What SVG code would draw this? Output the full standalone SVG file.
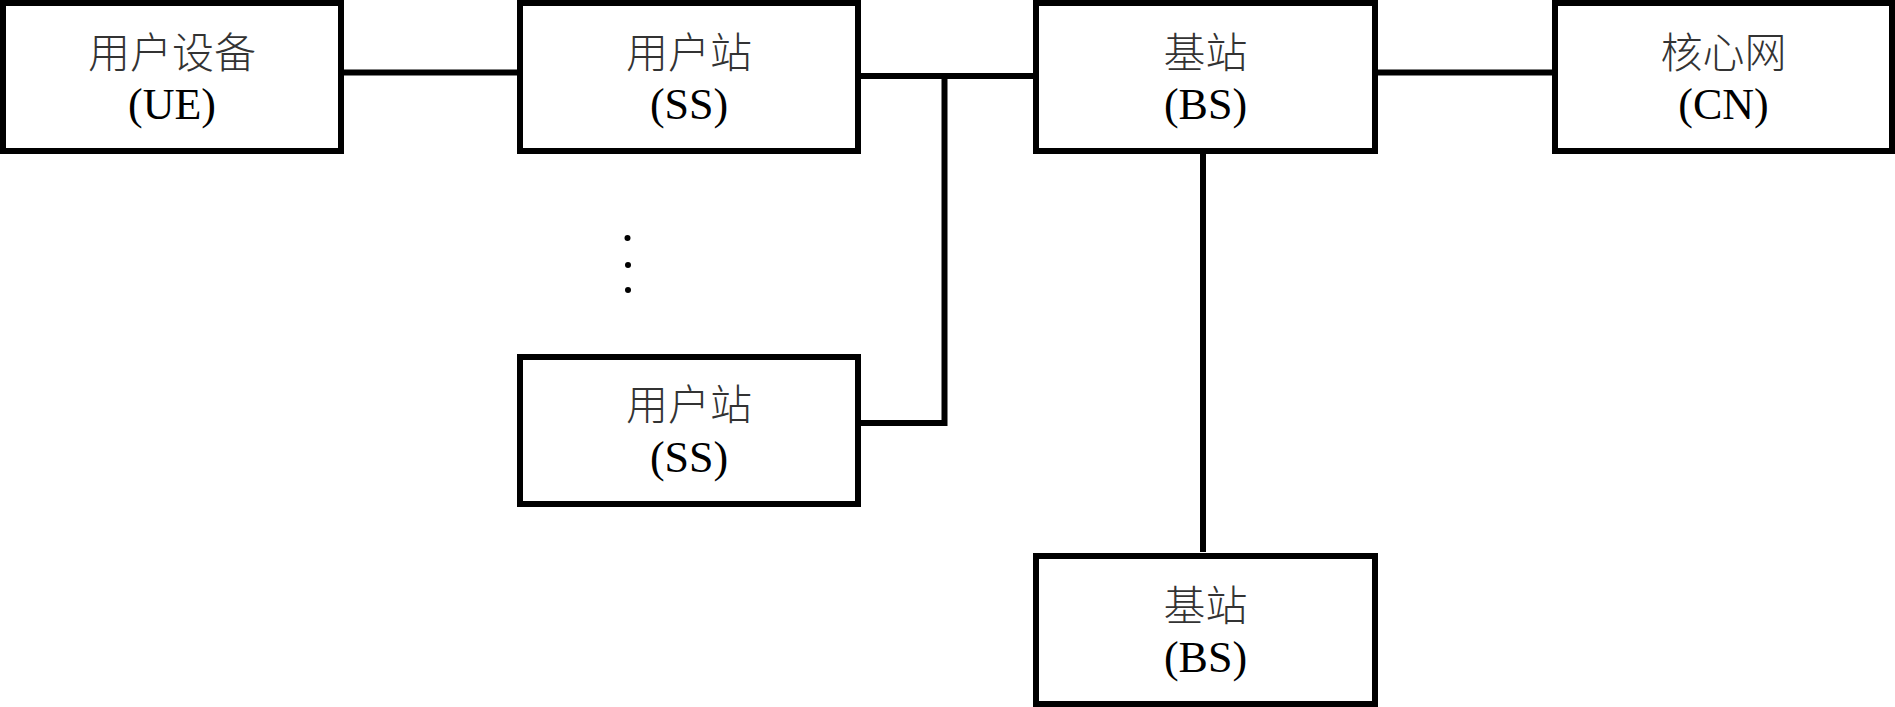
<svg xmlns="http://www.w3.org/2000/svg" width="1895" height="707" viewBox="0 0 1895 707">
<style>
.box{fill:#fff;stroke:#000;stroke-width:6}
.cn{font-family:"Liberation Serif","Noto Sans CJK SC",serif;font-size:42px;font-weight:300;fill:#333;text-anchor:middle}
.en{font-family:"Liberation Serif",serif;font-size:44px;fill:#000;text-anchor:middle}
.conn{fill:none;stroke:#000;stroke-width:6}
</style>
<rect width="1895" height="707" fill="#fff"/>
<g id="connectors">
<line class="conn" x1="344" y1="72.5" x2="517" y2="72.5"/>
<line class="conn" x1="861" y1="76" x2="1033" y2="76"/>
<polyline class="conn" points="944.5,76 944.5,423 861,423"/>
<line class="conn" x1="1378" y1="72.5" x2="1552" y2="72.5"/>
<line class="conn" x1="1203" y1="154" x2="1203" y2="552"/>
</g>
<g id="ue">
<rect class="box" x="3" y="3" width="338" height="148"/>
<text class="cn" x="172" y="68">用户设备</text>
<text class="en" x="172" y="119">(UE)</text>
</g>
<g id="ss1">
<rect class="box" x="520" y="3" width="338" height="148"/>
<text class="cn" x="689" y="68">用户站</text>
<text class="en" x="689" y="119">(SS)</text>
</g>
<g id="bs1">
<rect class="box" x="1036" y="3" width="339" height="148"/>
<text class="cn" x="1205.5" y="68">基站</text>
<text class="en" x="1205.5" y="119">(BS)</text>
</g>
<g id="cn">
<rect class="box" x="1555" y="3" width="337" height="148"/>
<text class="cn" x="1723.5" y="68">核心网</text>
<text class="en" x="1723.5" y="119">(CN)</text>
</g>
<g id="ss2">
<rect class="box" x="520" y="357" width="338" height="147"/>
<text class="cn" x="689" y="420">用户站</text>
<text class="en" x="689" y="472">(SS)</text>
</g>
<g id="bs2">
<rect class="box" x="1036" y="556" width="339" height="148"/>
<text class="cn" x="1205.5" y="621">基站</text>
<text class="en" x="1205.5" y="672">(BS)</text>
</g>
<g id="dots">
<circle cx="627.5" cy="238" r="3"/>
<circle cx="628" cy="265" r="3"/>
<circle cx="628" cy="290" r="3"/>
</g>
</svg>
